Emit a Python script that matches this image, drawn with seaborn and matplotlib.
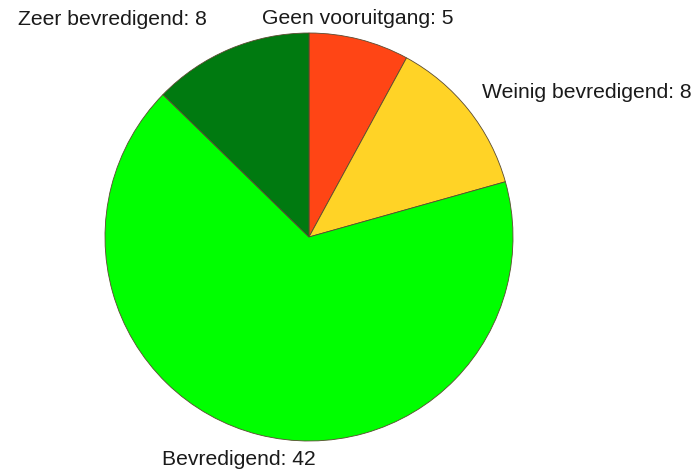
import matplotlib
matplotlib.use("Agg")
import matplotlib.pyplot as plt
import seaborn as sns

sns.set_theme(style="white")
plt.rcParams['font.family'] = ['Liberation Sans', 'DejaVu Sans']

categories = ["Geen vooruitgang", "Weinig bevredigend", "Bevredigend", "Zeer bevredigend"]
counts = [5, 8, 42, 8]
colors = ["#FF4515", "#FFD326", "#00FF00", "#007A10"]

# label anchors in axes data units (pie radius = 1), same order as categories
label_pos = [(0.24, 1.07, "center"), (0.85, 0.706, "left"), (-0.72, -1.093, "left"), (-0.5, 1.064, "right")]

fig = plt.figure(figsize=(6.98, 4.73), dpi=100)
ax = fig.add_axes([105 / 698, 32 / 473, 408 / 698, 408 / 473])
ax.pie(counts, colors=colors, startangle=90, counterclock=False,
       wedgeprops=dict(edgecolor="#5a4a30", linewidth=0.6))
ax.set_xlim(-1, 1)
ax.set_ylim(-1, 1)
ax.set_aspect("equal")
ax.axis("off")

for cat, n, (x, y, ha) in zip(categories, counts, label_pos):
    ax.text(x, y, f"{cat}: {n}", ha=ha, va="center", fontsize=15.2,
            color="#1a1a1a", clip_on=False)

fig.savefig("out.png", dpi=100)
